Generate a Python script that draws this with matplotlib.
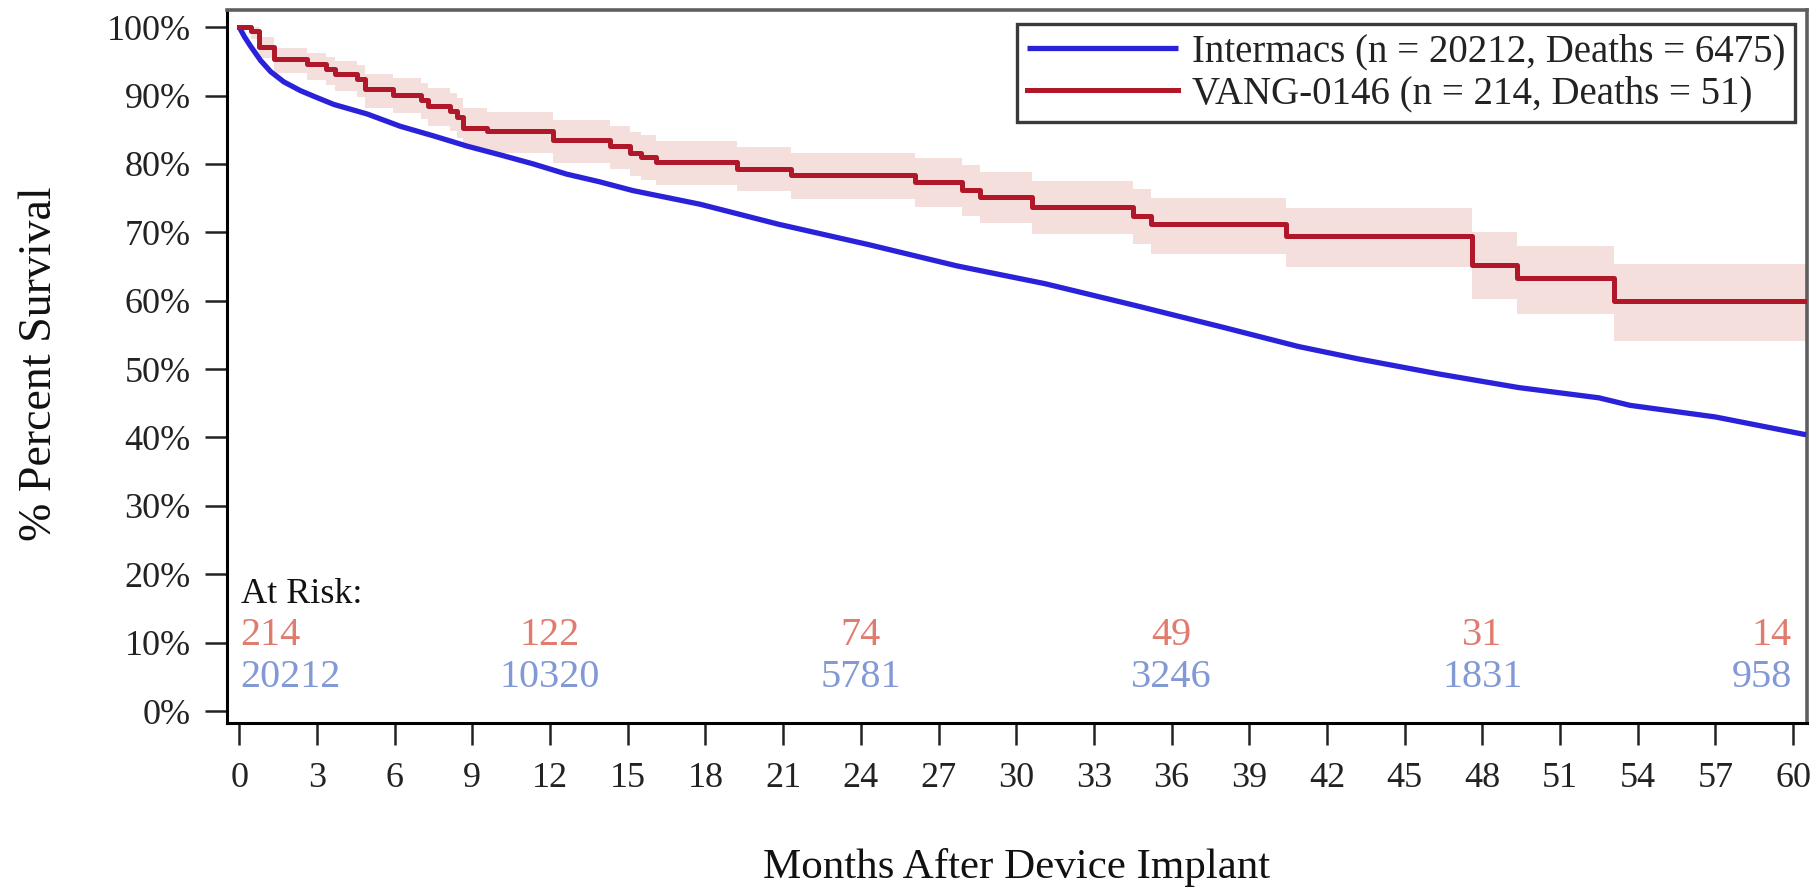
"""Kaplan-Meier style survival plot: Intermacs vs VANG-0146."""
import numpy as np
import matplotlib
matplotlib.use("Agg")
import matplotlib.pyplot as plt

# Intermacs (blue)
intermacs_month = [0, 0.2, 0.44, 0.83, 1.21, 1.72, 2.37, 3.0, 3.65, 4.94, 6.22, 7.5,
                   8.8, 10.1, 11.35, 12.65, 13.9, 15.2, 16.5, 17.8, 20.8, 24.3,
                   27.7, 31.1, 34.6, 38.0, 40.9, 43.2, 46.3, 49.4, 52.5, 53.7,
                   57.0, 60.5]
intermacs_surv = [100, 98.6, 97.2, 95.1, 93.5, 92.0, 90.7, 89.7, 88.7, 87.3, 85.5, 84.1,
                  82.6, 81.3, 80.0, 78.5, 77.4, 76.1, 75.1, 74.1, 71.2, 68.2,
                  65.1, 62.5, 59.3, 56.1, 53.3, 51.5, 49.3, 47.3, 45.8, 44.7,
                  43.0, 40.4]

# VANG-0146 (red) step curve with confidence band
vang_month = [0, 0.45, 0.75, 1.35, 2.6, 3.35, 3.7, 4.55, 4.85, 5.95, 7.0, 7.3, 8.15,
              8.4, 8.65, 9.55, 12.1, 14.3, 15.1, 15.5, 16.1, 19.2, 21.3, 26.1,
              27.9, 28.6, 30.6, 34.5, 35.2, 40.4, 47.6, 49.35, 53.1, 60.5]
vang_surv = [100, 99.4, 97.1, 95.3, 94.6, 93.9, 93.1, 92.4, 90.9, 90.1, 89.3, 88.5, 87.7,
             86.8, 85.3, 84.8, 83.5, 82.6, 81.6, 81.0, 80.3, 79.3, 78.4, 77.4,
             76.2, 75.1, 73.7, 72.4, 71.2, 69.4, 65.2, 63.3, 60.0, 60.0]
vang_lower = [100, 98.3, 95.5, 93.3, 92.3, 91.5, 90.6, 89.8, 88.2, 87.4, 86.5, 85.6, 84.8,
              83.8, 82.2, 81.6, 80.2, 79.2, 78.2, 77.6, 76.9, 76.0, 74.9, 73.7,
              72.4, 71.3, 69.8, 68.3, 66.8, 65.0, 60.3, 58.0, 54.1, 54.1]
vang_upper = [100, 100, 98.5, 97.0, 96.2, 95.6, 95.0, 94.5, 93.2, 92.6, 91.8, 91.1, 90.4,
              89.6, 88.2, 87.6, 86.4, 85.6, 84.7, 84.2, 83.3, 82.5, 81.6, 80.8,
              79.8, 78.8, 77.5, 76.3, 75.0, 73.5, 70.0, 68.0, 65.4, 65.4]

risk_month = [0, 12, 24, 36, 48, 60]
risk_vang = ['214', '122', '74', '49', '31', '14']
risk_intermacs = ['20212', '10320', '5781', '3246', '1831', '958']

x_ticks = list(range(0, 61, 3))
y_ticks = list(range(0, 101, 10))

blue = '#2a22d8'
red = '#b0182a'
band = '#f5dfdc'

plt.rcParams['font.family'] = ['Liberation Serif', 'DejaVu Serif']

fig = plt.figure(figsize=(18.2, 8.89), dpi=100)
ax = fig.add_axes([0.1247, 0.1867, 0.8681, 0.8020])

ax.fill_between(vang_month, vang_lower, vang_upper, step='post',
                color=band, linewidth=0, zorder=1)
ax.plot(intermacs_month, intermacs_surv, color=blue, lw=3.8, zorder=3,
        solid_capstyle='butt', label='Intermacs (n = 20212, Deaths = 6475)')
ax.step(vang_month, vang_surv, where='post', color=red, lw=3.6, zorder=4,
        label='VANG-0146 (n = 214, Deaths = 51)')

ax.set_xlim(-0.475, 60.53)
ax.set_ylim(-1.75, 102.5)
ax.set_xticks(x_ticks)
ax.set_yticks(y_ticks)
ax.set_yticklabels(['%d%%' % v for v in y_ticks])
ax.tick_params(axis='both', length=16, width=1.8, color='#222222',
               labelcolor='#222222')
ax.tick_params(axis='x', labelsize=26, pad=12)
ax.tick_params(axis='y', labelsize=26, pad=10)

for side in ['left', 'bottom']:
    ax.spines[side].set_linewidth(2.2)
    ax.spines[side].set_color('black')
for side in ['top', 'right']:
    ax.spines[side].set_linewidth(2.6)
    ax.spines[side].set_color('#5f5f5f')

# numbers at risk
ax.text(0.05, 15.8, 'At Risk:', fontsize=26, color='#111111',
        ha='left', va='baseline')
for i, m in enumerate(risk_month):
    if i == 0:
        ha = 'left'
        xm = m + 0.05
    elif i == len(risk_month) - 1:
        ha = 'right'
        xm = m - 0.05
    else:
        ha = 'center'
        xm = m
    ax.text(xm, 9.65, risk_vang[i], fontsize=29, color='#e07b6e',
            ha=ha, va='baseline')
    ax.text(xm, 3.5, risk_intermacs[i], fontsize=29, color='#8299d6',
            ha=ha, va='baseline')

leg = ax.legend(loc='upper right', bbox_to_anchor=(1795 / 1820, 1 - 24 / 889),
                bbox_transform=fig.transFigure, borderaxespad=0, fontsize=28,
                handlelength=3.9, handletextpad=0.35, labelspacing=0.12,
                borderpad=0.25, fancybox=False, framealpha=1)
leg.get_frame().set_edgecolor('#3a3a3a')
leg.get_frame().set_linewidth(2.4)
for t in leg.get_texts():
    t.set_color('#222222')

fig.text(40 / 1820, 1 - 364 / 889, '% Percent Survival', fontsize=33,
         rotation=90, ha='center', va='center', color='#111111')
fig.text(1017 / 1820, 1 - 878 / 889, 'Months After Device Implant', fontsize=31,
         ha='center', va='baseline', color='#111111')

plt.savefig('out.png', dpi=100, facecolor='w')
